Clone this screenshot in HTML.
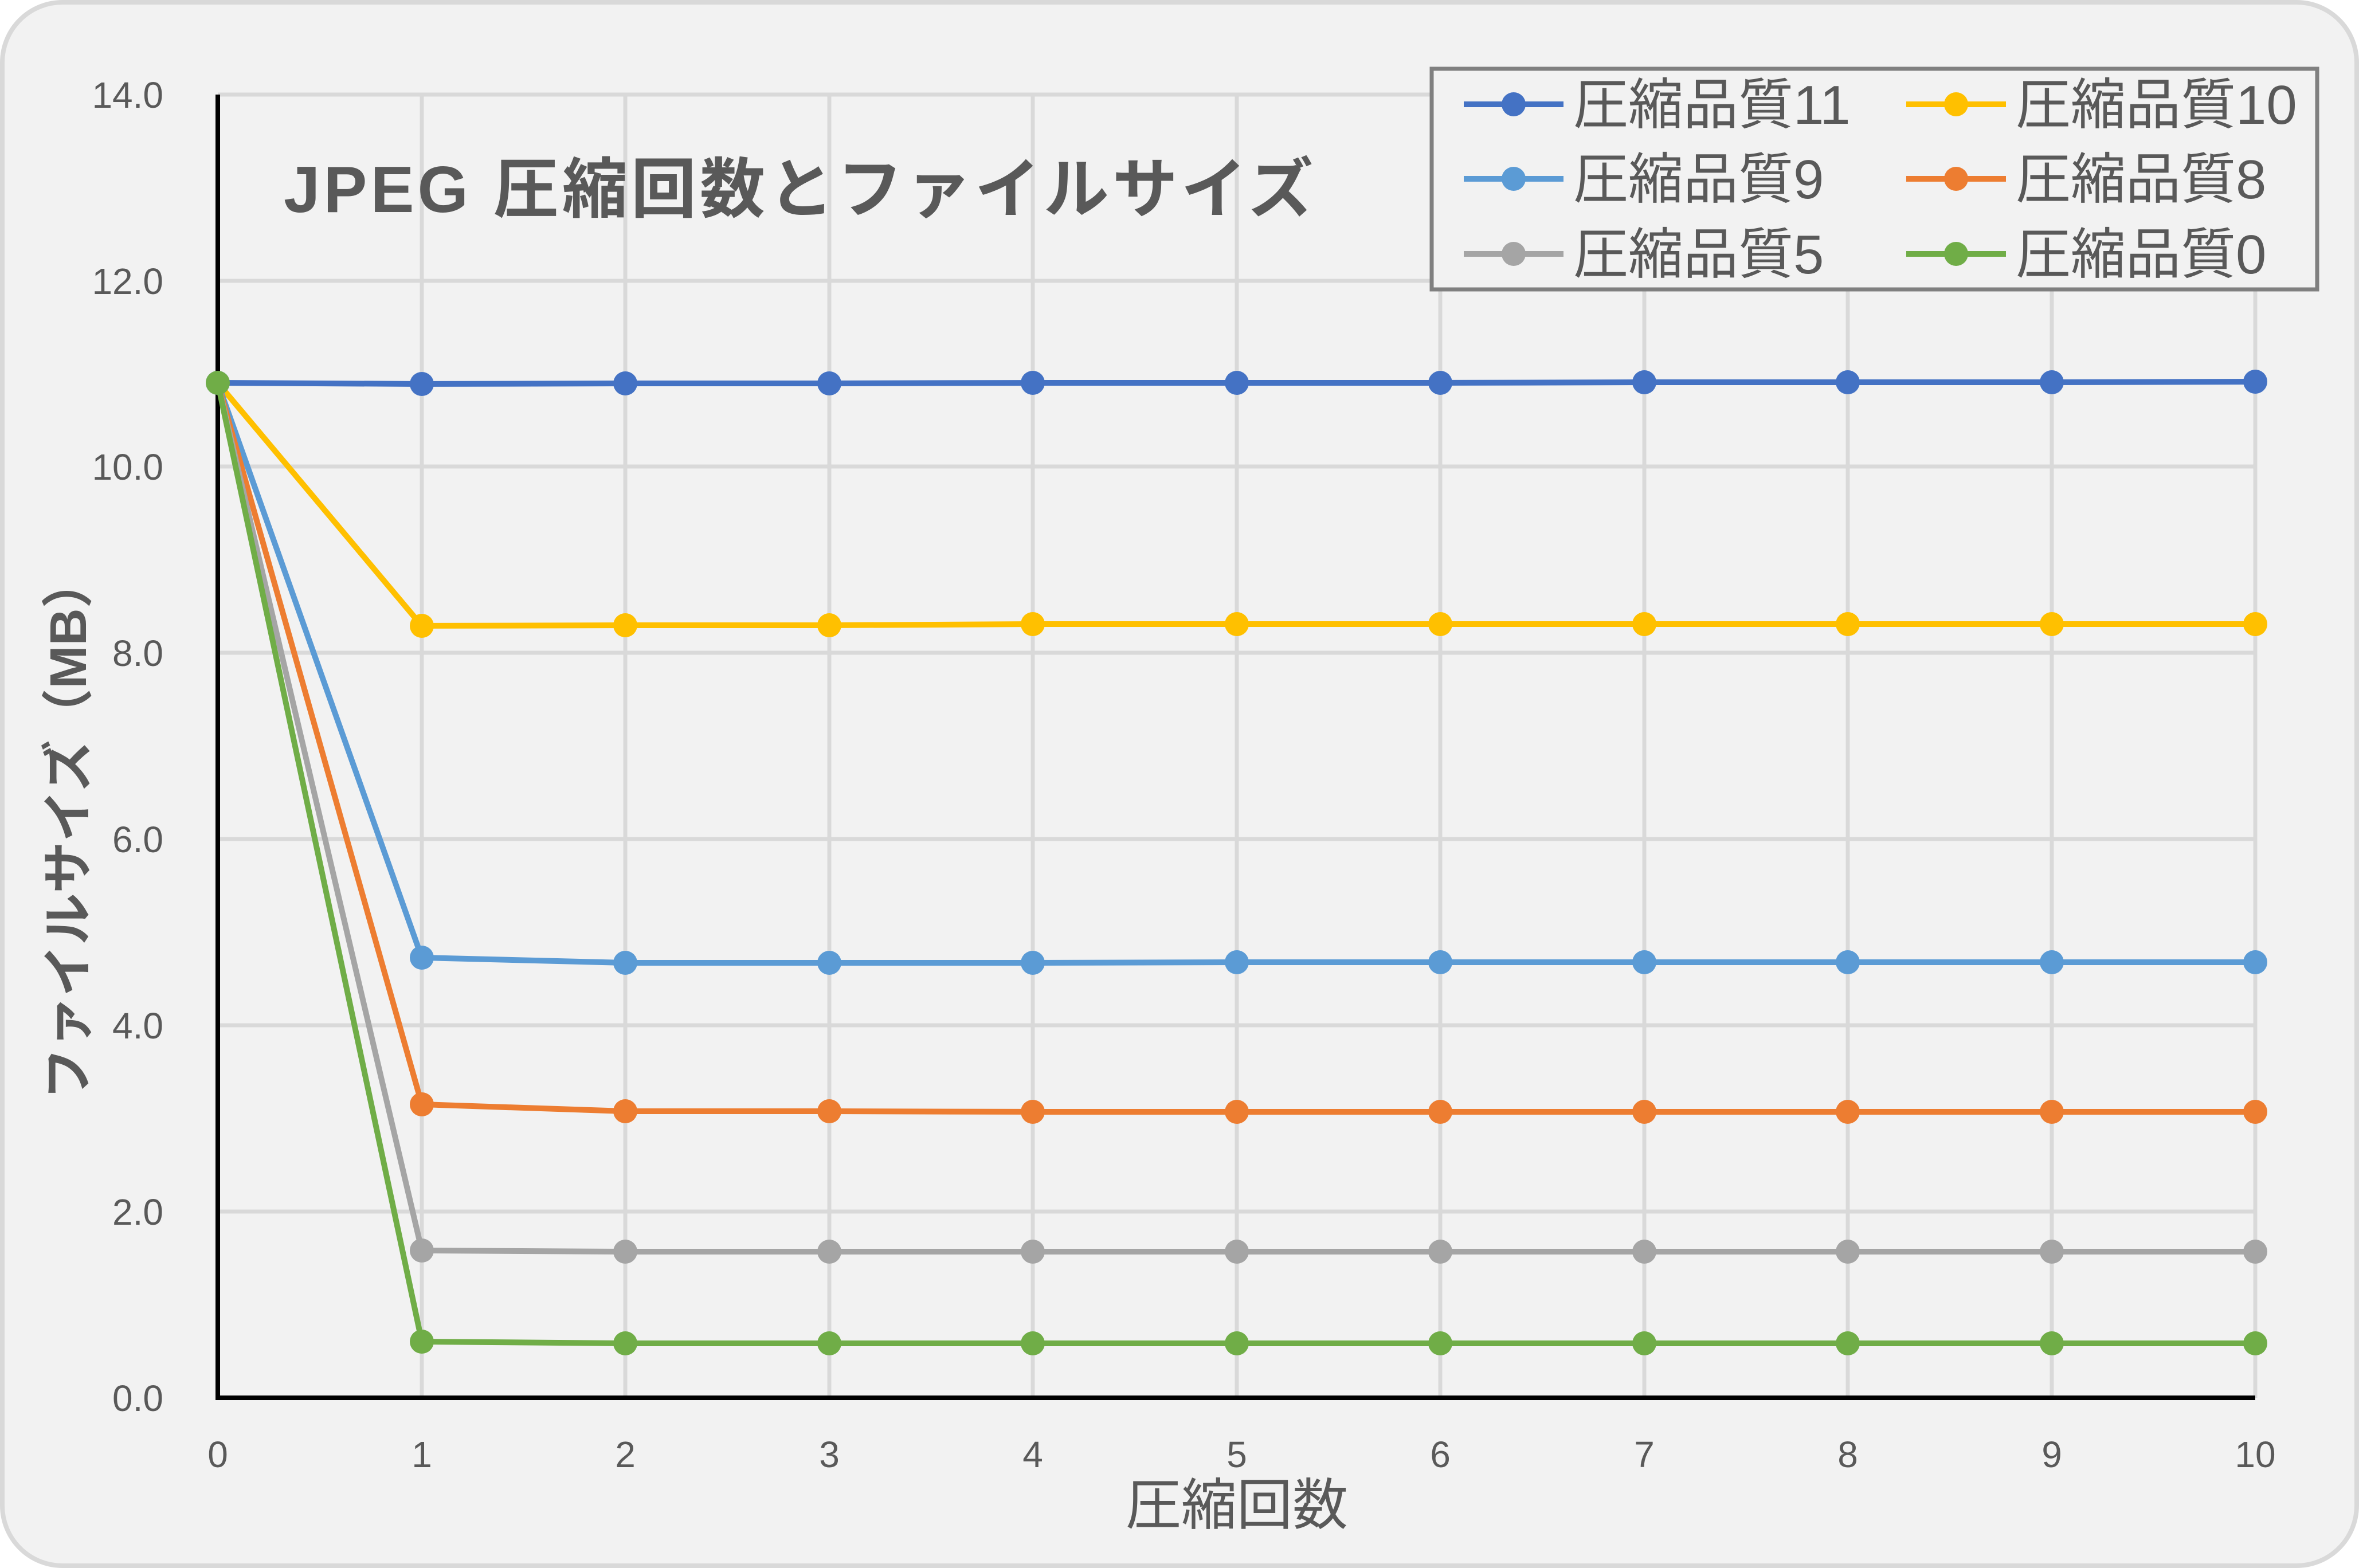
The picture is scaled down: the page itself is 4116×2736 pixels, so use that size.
<!DOCTYPE html>
<html><head><meta charset="utf-8"><style>
html,body{margin:0;padding:0;background:#fff;}
svg{display:block;}
text{font-family:"Liberation Sans","Noto Sans CJK JP",sans-serif;fill:#595959;}
</style></head><body>
<svg width="4116" height="2736" viewBox="0 0 4116 2736" xmlns="http://www.w3.org/2000/svg">
<rect x="4" y="4" width="4108" height="2728" rx="105" ry="105" fill="#f2f2f2" stroke="#d9d9d9" stroke-width="8"/>
<g stroke="#d9d9d9" stroke-width="7">
<line x1="380" y1="165" x2="3935" y2="165"/>
<line x1="380" y1="490" x2="3935" y2="490"/>
<line x1="380" y1="814" x2="3935" y2="814"/>
<line x1="380" y1="1139" x2="3935" y2="1139"/>
<line x1="380" y1="1464" x2="3935" y2="1464"/>
<line x1="380" y1="1789" x2="3935" y2="1789"/>
<line x1="380" y1="2114" x2="3935" y2="2114"/>
<line x1="736" y1="165" x2="736" y2="2439"/>
<line x1="1091" y1="165" x2="1091" y2="2439"/>
<line x1="1447" y1="165" x2="1447" y2="2439"/>
<line x1="1802" y1="165" x2="1802" y2="2439"/>
<line x1="2158" y1="165" x2="2158" y2="2439"/>
<line x1="2513" y1="165" x2="2513" y2="2439"/>
<line x1="2869" y1="165" x2="2869" y2="2439"/>
<line x1="3224" y1="165" x2="3224" y2="2439"/>
<line x1="3580" y1="165" x2="3580" y2="2439"/>
<line x1="3935" y1="165" x2="3935" y2="2439"/>
</g>
<g stroke="#000" stroke-width="8" fill="none">
<line x1="380" y1="165" x2="380" y2="2443"/>
<line x1="376" y1="2439" x2="3935" y2="2439"/>
</g>
<g font-size="64" text-anchor="end">
<text x="285" y="188">14.0</text>
<text x="285" y="513">12.0</text>
<text x="285" y="837">10.0</text>
<text x="285" y="1162">8.0</text>
<text x="285" y="1487">6.0</text>
<text x="285" y="1812">4.0</text>
<text x="285" y="2137">2.0</text>
<text x="285" y="2462">0.0</text>
</g>
<g font-size="64" text-anchor="middle">
<text x="380" y="2560">0</text><text x="736" y="2560">1</text><text x="1091" y="2560">2</text>
<text x="1447" y="2560">3</text><text x="1802" y="2560">4</text><text x="2158" y="2560">5</text>
<text x="2513" y="2560">6</text><text x="2869" y="2560">7</text><text x="3224" y="2560">8</text>
<text x="3580" y="2560">9</text><text x="3935" y="2560">10</text>
</g>
<text x="2158" y="2660" font-size="97" text-anchor="middle">圧縮回数</text>
<text transform="translate(150,1445) rotate(-90)" font-size="90" font-weight="bold" text-anchor="middle">ファイルサイズ（MB）</text>
<text x="495" y="370" font-size="114" font-weight="bold" letter-spacing="6">JPEG 圧縮回数とファイルサイズ</text>
<g fill="none" stroke-width="10" stroke-linejoin="round">
<polyline stroke="#4472c4" points="380,668 736,670 1091,669 1447,669 1802,668 2158,668 2513,668 2869,667 3224,667 3580,667 3935,666"/>
<polyline stroke="#ffc000" points="380,668 736,1092 1091,1091 1447,1091 1802,1089 2158,1089 2513,1089 2869,1089 3224,1089 3580,1089 3935,1089"/>
<polyline stroke="#5b9bd5" points="380,668 736,1671 1091,1680 1447,1680 1802,1680 2158,1679 2513,1679 2869,1679 3224,1679 3580,1679 3935,1679"/>
<polyline stroke="#ed7d31" points="380,668 736,1927 1091,1939 1447,1939 1802,1940 2158,1940 2513,1940 2869,1940 3224,1940 3580,1940 3935,1940"/>
<polyline stroke="#a5a5a5" points="380,668 736,2182 1091,2184 1447,2184 1802,2184 2158,2184 2513,2184 2869,2184 3224,2184 3580,2184 3935,2184"/>
<polyline stroke="#70ad47" points="380,668 736,2341 1091,2344 1447,2344 1802,2344 2158,2344 2513,2344 2869,2344 3224,2344 3580,2344 3935,2344"/>
</g>
<g fill="#4472c4"><circle cx="380" cy="668" r="21"/><circle cx="736" cy="670" r="21"/><circle cx="1091" cy="669" r="21"/><circle cx="1447" cy="669" r="21"/><circle cx="1802" cy="668" r="21"/><circle cx="2158" cy="668" r="21"/><circle cx="2513" cy="668" r="21"/><circle cx="2869" cy="667" r="21"/><circle cx="3224" cy="667" r="21"/><circle cx="3580" cy="667" r="21"/><circle cx="3935" cy="666" r="21"/></g>
<g fill="#ffc000"><circle cx="736" cy="1092" r="21"/><circle cx="1091" cy="1091" r="21"/><circle cx="1447" cy="1091" r="21"/><circle cx="1802" cy="1089" r="21"/><circle cx="2158" cy="1089" r="21"/><circle cx="2513" cy="1089" r="21"/><circle cx="2869" cy="1089" r="21"/><circle cx="3224" cy="1089" r="21"/><circle cx="3580" cy="1089" r="21"/><circle cx="3935" cy="1089" r="21"/></g>
<g fill="#5b9bd5"><circle cx="736" cy="1671" r="21"/><circle cx="1091" cy="1680" r="21"/><circle cx="1447" cy="1680" r="21"/><circle cx="1802" cy="1680" r="21"/><circle cx="2158" cy="1679" r="21"/><circle cx="2513" cy="1679" r="21"/><circle cx="2869" cy="1679" r="21"/><circle cx="3224" cy="1679" r="21"/><circle cx="3580" cy="1679" r="21"/><circle cx="3935" cy="1679" r="21"/></g>
<g fill="#ed7d31"><circle cx="736" cy="1927" r="21"/><circle cx="1091" cy="1939" r="21"/><circle cx="1447" cy="1939" r="21"/><circle cx="1802" cy="1940" r="21"/><circle cx="2158" cy="1940" r="21"/><circle cx="2513" cy="1940" r="21"/><circle cx="2869" cy="1940" r="21"/><circle cx="3224" cy="1940" r="21"/><circle cx="3580" cy="1940" r="21"/><circle cx="3935" cy="1940" r="21"/></g>
<g fill="#a5a5a5"><circle cx="736" cy="2182" r="21"/><circle cx="1091" cy="2184" r="21"/><circle cx="1447" cy="2184" r="21"/><circle cx="1802" cy="2184" r="21"/><circle cx="2158" cy="2184" r="21"/><circle cx="2513" cy="2184" r="21"/><circle cx="2869" cy="2184" r="21"/><circle cx="3224" cy="2184" r="21"/><circle cx="3580" cy="2184" r="21"/><circle cx="3935" cy="2184" r="21"/></g>
<g fill="#70ad47"><circle cx="380" cy="668" r="21"/><circle cx="736" cy="2341" r="21"/><circle cx="1091" cy="2344" r="21"/><circle cx="1447" cy="2344" r="21"/><circle cx="1802" cy="2344" r="21"/><circle cx="2158" cy="2344" r="21"/><circle cx="2513" cy="2344" r="21"/><circle cx="2869" cy="2344" r="21"/><circle cx="3224" cy="2344" r="21"/><circle cx="3580" cy="2344" r="21"/><circle cx="3935" cy="2344" r="21"/></g>
<rect x="2498" y="120" width="1545" height="385" fill="#f2f2f2" stroke="#808080" stroke-width="7"/>
<g stroke-width="10">
<line x1="2554" y1="182" x2="2728" y2="182" stroke="#4472c4"/>
<line x1="3326" y1="182" x2="3500" y2="182" stroke="#ffc000"/>
<line x1="2554" y1="312" x2="2728" y2="312" stroke="#5b9bd5"/>
<line x1="3326" y1="312" x2="3500" y2="312" stroke="#ed7d31"/>
<line x1="2554" y1="443" x2="2728" y2="443" stroke="#a5a5a5"/>
<line x1="3326" y1="443" x2="3500" y2="443" stroke="#70ad47"/>
</g>
<circle cx="2641" cy="182" r="21" fill="#4472c4"/>
<circle cx="3413" cy="182" r="21" fill="#ffc000"/>
<circle cx="2641" cy="312" r="21" fill="#5b9bd5"/>
<circle cx="3413" cy="312" r="21" fill="#ed7d31"/>
<circle cx="2641" cy="443" r="21" fill="#a5a5a5"/>
<circle cx="3413" cy="443" r="21" fill="#70ad47"/>
<g font-size="96">
<text x="2745" y="216">圧縮品質11</text>
<text x="3517" y="216">圧縮品質10</text>
<text x="2745" y="346">圧縮品質9</text>
<text x="3517" y="346">圧縮品質8</text>
<text x="2745" y="477">圧縮品質5</text>
<text x="3517" y="477">圧縮品質0</text>
</g>
</svg>
</body></html>
